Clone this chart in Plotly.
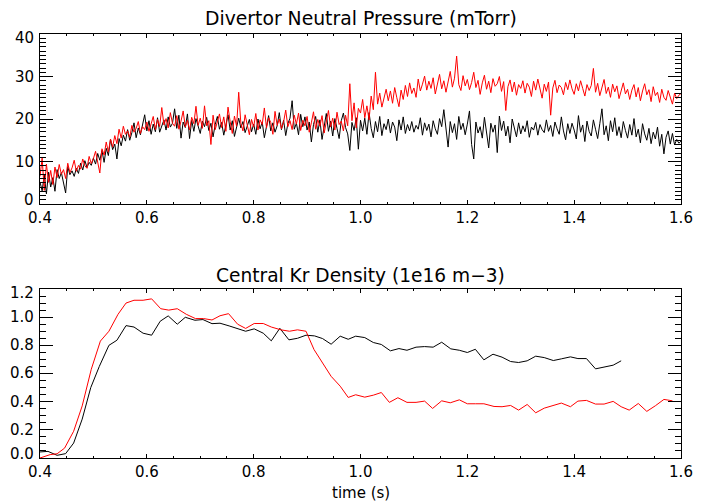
import numpy as np
import plotly.graph_objects as go

# ---------------- data ----------------
# Divertor neutral pressure (mTorr), sampled every 4 ms from 0.400 s to 1.600 s
t_press = np.round(np.arange(301) * 0.004 + 0.4, 4)

press_black = [
    5.2, 3.1, 6.8, 2.4, 7.5, 4.0, 6.2, 3.0, 8.1, 6.0, 7.4, 5.2, 2.6, 8.8, 6.9, 7.8, 6.5, 8.4, 7.2, 9.6, 8.0, 10.2, 8.6, 9.8, 9.1,
    10.8, 9.4, 11.9, 10.3, 12.6, 9.8, 13.1, 11.4, 15.2, 12.8, 14.1, 10.6, 15.4, 13.7, 16.2, 14.8, 17.5, 15.0, 16.8, 19.1, 15.6, 17.9, 16.3, 18.4, 21.0,
    17.2, 19.6, 16.4, 18.8, 17.0, 20.3, 16.9, 18.6, 19.8, 17.4, 20.5, 18.1, 19.0, 22.4, 17.8, 20.9, 15.5, 19.3, 18.0, 21.2, 15.4, 19.7, 17.1, 20.1, 18.3,
    16.6, 19.5, 18.2, 20.4, 17.3, 19.0, 15.8, 18.7, 20.6, 17.6, 19.2, 16.2, 18.9, 21.0, 17.4, 19.6, 15.9, 18.5, 20.2, 17.9, 19.4, 16.8, 18.2, 19.9, 17.0,
    18.8, 16.4, 20.0, 17.7, 19.3, 15.6, 18.6, 20.8, 17.2, 19.1, 16.9, 18.4, 21.5, 17.5, 19.7, 16.1, 18.9, 20.2, 24.3, 17.6, 19.0, 16.3, 21.1, 18.2, 20.5,
    17.4, 19.3, 14.6, 18.7, 20.6, 16.9, 19.8, 15.2, 18.4, 21.3, 17.1, 19.5, 16.0, 20.1, 17.8, 15.4, 19.6, 21.4, 18.0, 16.5, 12.6, 19.2, 17.3, 20.3, 12.9,
    19.7, 17.2, 20.2, 16.4, 21.5, 17.8, 15.6, 19.4, 17.0, 20.6, 16.1, 18.9, 17.5, 20.0, 16.7, 19.3, 18.1, 14.9, 19.8, 17.4, 20.5, 16.6, 18.7, 17.2, 19.4,
    16.9, 18.5, 17.6, 20.3, 16.2, 19.1, 17.3, 18.8, 15.8, 19.6, 17.7, 16.4, 20.1, 18.2, 22.2, 17.0, 13.4, 19.4, 16.8, 18.9, 15.2, 20.6, 17.5, 19.0, 16.3,
    18.8, 21.9, 14.0, 10.6, 19.3, 16.7, 18.2, 15.5, 20.4, 17.1, 13.2, 19.0, 16.9, 18.6, 12.1, 20.7, 17.3, 19.5, 16.0, 18.3, 14.4, 20.0, 17.6, 15.8, 19.1,
    16.5, 18.4, 17.0, 19.6, 15.7, 18.1, 17.4, 19.2, 16.2, 18.7, 17.5, 16.8, 19.8, 17.1, 18.5, 15.9, 19.3, 17.7, 16.4, 20.5, 17.2, 15.1, 18.9, 16.6, 19.0,
    17.4, 15.3, 20.8, 16.9, 18.6, 14.7, 19.5, 17.1, 16.0, 19.8, 17.6, 15.4, 18.9, 22.4, 16.3, 18.4, 14.9, 19.6, 17.0, 20.3, 16.1, 18.2, 15.6, 19.4, 17.3,
    15.5, 18.7, 16.2, 20.1, 15.8, 17.6, 14.4, 18.9, 16.5, 15.0, 17.8, 14.2, 16.9, 15.3, 18.1, 13.6, 16.4, 11.8, 15.7, 17.2, 14.1, 16.6, 13.9, 15.2, 14.3,
    14.8,
]

press_red = [
    6.5, 10.8, 3.2, 9.4, 5.1, 7.9, 4.6, 8.7, 6.2, 9.3, 7.0, 8.1, 6.0, 9.6, 7.4, 8.5, 10.3, 7.7, 9.1, 8.2, 10.6, 9.0, 8.4, 11.2, 9.5,
    10.7, 12.4, 9.6, 7.3, 13.0, 11.5, 14.6, 12.2, 15.3, 13.4, 16.1, 14.2, 17.6, 15.5, 18.3, 16.4, 17.2, 15.7, 18.5, 16.9, 17.8, 19.4, 16.6, 18.2, 17.5,
    19.3, 17.1, 18.8, 20.6, 17.5, 19.9, 18.2, 22.7, 18.6, 20.1, 17.9, 21.5, 19.0, 18.3, 20.8, 17.6, 19.5, 21.9, 18.1, 19.7, 17.4, 20.4, 18.9, 23.0, 18.5,
    20.2, 17.8, 23.1, 18.4, 19.6, 14.0, 20.9, 17.5, 19.3, 21.2, 18.0, 20.5, 17.1, 22.8, 19.4, 16.6, 20.7, 18.3, 26.3, 19.0, 17.2, 21.0, 18.6, 16.3, 19.9,
    18.1, 21.3, 17.4, 19.8, 18.7, 22.6, 17.9, 20.3, 19.2, 16.4, 21.8, 18.5, 20.0, 17.7, 19.3, 22.1, 18.2, 19.6, 17.5, 20.9, 18.8, 21.4, 17.3, 19.7, 18.4,
    20.6, 16.9, 19.1, 21.7, 17.6, 19.9, 18.3, 20.8, 16.7, 19.4, 22.0, 18.1, 20.2, 17.4, 21.6, 18.7, 19.5, 17.2, 20.9, 18.4, 28.3, 19.6, 23.8, 17.9, 22.5,
    21.4, 24.6, 20.3, 23.1, 19.8, 25.4, 22.2, 31.0, 23.5, 26.1, 22.8, 25.2, 27.0, 24.3, 26.6, 23.7, 27.4, 25.0, 22.9, 26.8, 24.6, 27.9, 25.3, 28.5, 26.0,
    27.3, 25.1, 29.4, 26.6, 28.2, 30.1, 26.8, 28.9, 27.2, 29.7, 25.9, 28.4, 30.5, 27.1, 29.0, 26.3, 28.8, 31.2, 27.5, 29.6, 34.8, 28.1, 26.7, 30.2, 27.8,
    29.3, 26.9, 28.6, 31.0, 27.4, 29.1, 25.8, 28.5, 30.3, 27.0, 28.9, 26.2, 29.5, 27.7, 28.3, 30.0, 26.5, 28.8, 22.0, 27.6, 29.2, 26.4, 28.7, 25.6, 28.1,
    27.2, 29.0, 26.1, 28.4, 27.5, 25.3, 28.9, 26.8, 29.4, 27.0, 24.9, 28.2, 26.5, 28.7, 20.9, 27.3, 29.1, 26.2, 28.0, 27.4, 25.7, 28.6, 26.9, 29.2, 27.1,
    25.8, 28.3, 26.6, 29.0, 27.2, 25.4, 28.1, 26.7, 27.9, 31.9, 26.3, 28.4, 25.5, 27.7, 29.3, 26.0, 27.5, 25.1, 28.2, 26.4, 27.8, 24.8, 26.9, 28.5, 25.9,
    27.0, 24.6, 26.8, 28.1, 25.2, 27.4, 24.3, 26.6, 28.3, 25.7, 26.9, 24.1, 27.6, 25.5, 26.3, 23.9, 27.0, 25.1, 24.4, 26.7, 25.3, 23.5, 26.1, 24.8, 25.6,
    26.0,
]

# Central Kr density (1e16 m-3)
t_kr_red = [0.400, 0.419, 0.432, 0.446, 0.463, 0.479, 0.496, 0.513, 0.529, 0.546, 0.561, 0.576, 0.593, 0.609,
            0.626, 0.641, 0.657, 0.674, 0.691, 0.706, 0.722, 0.737, 0.753, 0.770, 0.785, 0.801, 0.818, 0.833,
            0.851, 0.867, 0.882, 0.898, 0.913, 0.929, 0.945, 0.962, 0.977, 0.991, 1.008, 1.024, 1.039, 1.054,
            1.070, 1.087, 1.104, 1.120, 1.135, 1.152, 1.168, 1.185, 1.200, 1.215, 1.231, 1.250, 1.265, 1.281,
            1.296, 1.312, 1.328, 1.344, 1.361, 1.376, 1.393, 1.407, 1.423, 1.440, 1.456, 1.473, 1.488, 1.503,
            1.520, 1.536, 1.552, 1.568, 1.584]
kr_red = [0.00, 0.024, 0.03, 0.07, 0.19, 0.37, 0.63, 0.83, 0.90, 1.02, 1.10, 1.12, 1.12, 1.13,
          1.06, 1.05, 1.06, 1.02, 0.99, 0.99, 0.98, 1.01, 1.025, 0.95, 0.92, 0.955, 0.955, 0.93,
          0.91, 0.90, 0.91, 0.90, 0.77, 0.67, 0.58, 0.51, 0.43, 0.449, 0.432, 0.446, 0.465, 0.395,
          0.428, 0.395, 0.395, 0.404, 0.352, 0.406, 0.392, 0.413, 0.385, 0.385, 0.385, 0.366, 0.364, 0.373,
          0.340, 0.380, 0.321, 0.354, 0.373, 0.390, 0.364, 0.404, 0.409, 0.383, 0.383, 0.402, 0.364, 0.340,
          0.387, 0.331, 0.371, 0.416, 0.406]

t_kr_black = [0.400, 0.415, 0.432, 0.448, 0.463, 0.479, 0.495, 0.511, 0.529, 0.544, 0.561, 0.576, 0.593, 0.609,
              0.625, 0.640, 0.657, 0.672, 0.690, 0.705, 0.722, 0.737, 0.754, 0.770, 0.785, 0.801, 0.818, 0.833,
              0.849, 0.866, 0.882, 0.898, 0.914, 0.929, 0.945, 0.962, 0.977, 0.991, 1.008, 1.024, 1.039, 1.056,
              1.072, 1.087, 1.104, 1.120, 1.136, 1.152, 1.169, 1.185, 1.200, 1.215, 1.231, 1.248, 1.265, 1.281,
              1.296, 1.312, 1.328, 1.344, 1.361, 1.376, 1.393, 1.407, 1.423, 1.440, 1.456, 1.473, 1.488]
kr_black = [0.043, 0.047, 0.019, 0.031, 0.106, 0.276, 0.50, 0.65, 0.80, 0.836, 0.94, 0.93, 0.886, 0.872,
            0.971, 1.009, 0.95, 0.999, 0.978, 0.983, 0.954, 0.957, 0.938, 0.917, 0.90, 0.917, 0.886, 0.832,
            0.921, 0.839, 0.85, 0.872, 0.867, 0.848, 0.808, 0.865, 0.843, 0.865, 0.855, 0.82, 0.806, 0.761,
            0.777, 0.765, 0.787, 0.791, 0.787, 0.822, 0.775, 0.765, 0.749, 0.772, 0.697, 0.737, 0.716, 0.685,
            0.678, 0.690, 0.723, 0.713, 0.692, 0.704, 0.718, 0.706, 0.706, 0.633, 0.647, 0.659, 0.690]

x_ticks = [0.4, 0.6, 0.8, 1.0, 1.2, 1.4, 1.6]
x_tick_text = ["0.4", "0.6", "0.8", "1.0", "1.2", "1.4", "1.6"]
y1_ticks = [0, 10, 20, 30, 40]
y1_tick_text = ["0", "10", "20", "30", "40"]
y2_ticks = [0.0, 0.2, 0.4, 0.6, 0.8, 1.0, 1.2]
y2_tick_text = ["0.0", "0.2", "0.4", "0.6", "0.8", "1.0", "1.2"]

title_top = "Divertor Neutral Pressure (mTorr)"
title_bot = "Central Kr Density (1e16 m\u22123)"
x_title = "time (s)"

# ---------------- figure ----------------
FONT = "DejaVu Sans"
fig = go.Figure()

fig.add_trace(go.Scatter(x=t_press, y=press_black, mode="lines",
                         line=dict(color="black", width=1), xaxis="x", yaxis="y"))
fig.add_trace(go.Scatter(x=t_press, y=press_red, mode="lines",
                         line=dict(color="#ff0000", width=1), xaxis="x", yaxis="y"))
fig.add_trace(go.Scatter(x=t_kr_black, y=kr_black, mode="lines",
                         line=dict(color="black", width=1), xaxis="x2", yaxis="y2"))
fig.add_trace(go.Scatter(x=t_kr_red, y=kr_red, mode="lines",
                         line=dict(color="#ff0000", width=1), xaxis="x2", yaxis="y2"))

tickfont = dict(family=FONT, size=15, color="black")

def xax(anchor):
    return dict(range=[0.4, 1.6], anchor=anchor, domain=[0, 1],
                tickmode="array", tickvals=x_ticks, ticktext=x_tick_text,
                ticks="inside", ticklen=4, tickwidth=1, tickcolor="black",
                minor=dict(dtick=0.05, tick0=0.4, ticks="inside", ticklen=2, tickcolor="black", tickwidth=1),
                showline=True, linecolor="black", linewidth=1, mirror="ticks",
                showgrid=False, zeroline=False, tickfont=tickfont)

def yax(anchor, domain, rng, tv, minor_dt):
    return dict(range=rng, anchor=anchor, domain=domain,
                tickmode="array", tickvals=tv, showticklabels=False,
                ticks="inside", ticklen=13, tickwidth=1, tickcolor="black",
                minor=dict(dtick=minor_dt, tick0=0, ticks="inside", ticklen=6, tickcolor="black", tickwidth=1),
                showline=True, linecolor="black", linewidth=1, mirror="ticks",
                showgrid=False, zeroline=False)

# y tick labels as annotations on the axis scale (end labels nudged inward, as in the original)
annots = []
for yref, vals, texts in (("y", y1_ticks, y1_tick_text), ("y2", y2_ticks, y2_tick_text)):
    for i, (v, s) in enumerate(zip(vals, texts)):
        shift = 0
        if i == 0:
            shift = 4
        elif i == len(vals) - 1:
            shift = -4
        annots.append(dict(text=s, xref="paper", yref=yref, x=0, y=v, xanchor="right",
                           yanchor="middle", xshift=-4, yshift=shift, showarrow=False,
                           font=tickfont))

annots += [
    dict(text=title_top, xref="paper", yref="paper", x=0.5, y=1.0377,
         xanchor="center", yanchor="middle", showarrow=False,
         font=dict(family=FONT, size=18.8, color="black")),
    dict(text=title_bot, xref="paper", yref="paper", x=0.5, y=0.4316,
         xanchor="center", yanchor="middle", showarrow=False,
         font=dict(family=FONT, size=18.6, color="black")),
    dict(text=x_title, xref="paper", yref="paper", x=0.5, y=-0.0835,
         xanchor="center", yanchor="middle", showarrow=False,
         font=dict(family=FONT, size=15, color="black")),
]

fig.update_layout(
    width=705, height=503,
    margin=dict(l=40, r=18, t=34, b=45),
    paper_bgcolor="white", plot_bgcolor="white",
    showlegend=False,
    xaxis=xax("y"),
    yaxis=yax("x", [0.599, 1.0], [0, 40], y1_ticks, 1),
    xaxis2=xax("y2"),
    yaxis2=yax("x2", [0.0, 0.3986], [0, 1.2], y2_ticks, 0.05),
    annotations=annots,
)

fig.write_html("out.html", config={"displayModeBar": False},
               post_script="document.body.style.margin='0';")
